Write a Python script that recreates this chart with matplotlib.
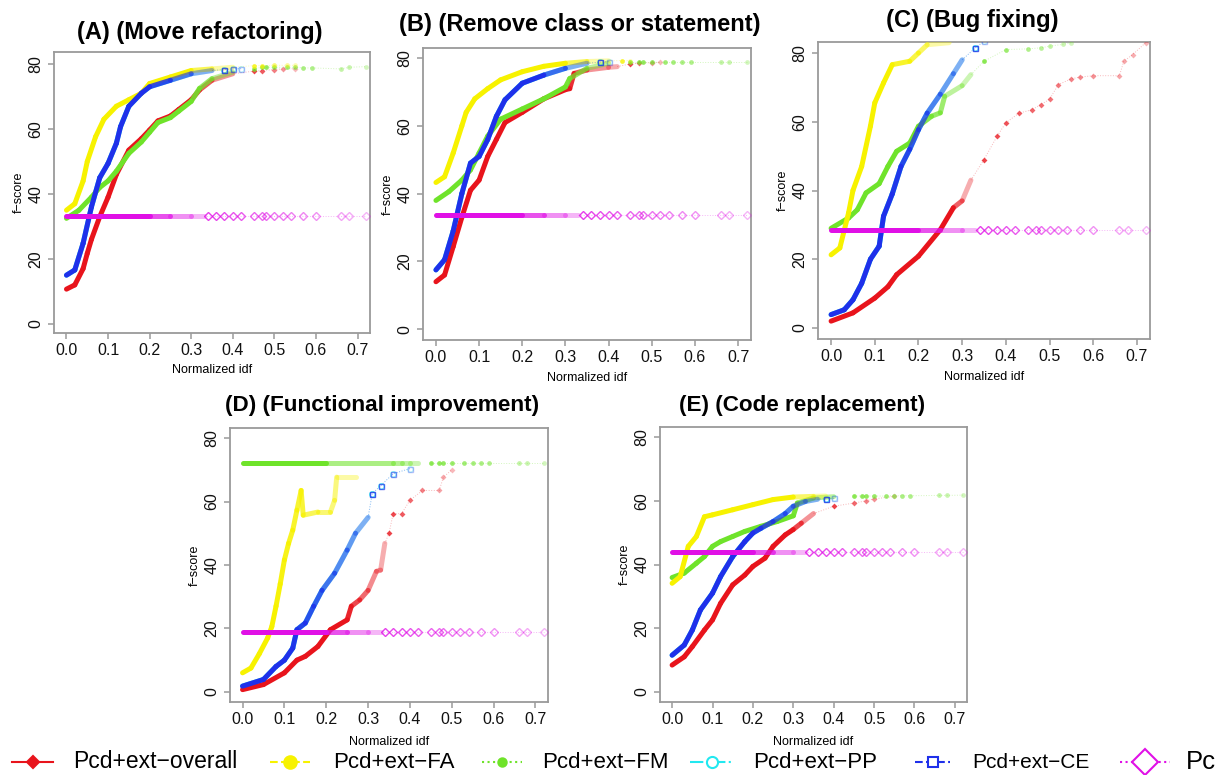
import matplotlib.pyplot as plt
from matplotlib.collections import LineCollection
from matplotlib.colors import to_rgba
import numpy as np

plt.rcParams['font.family'] = ['Liberation Sans', 'DejaVu Sans']

#### colours (R defaults, as they look in the picture)
RED = '#e8141c'
YEL = '#f7f200'
GRN = '#6fe32a'
CYA = '#22e8f0'
BLU = '#1f30ea'
MAG = '#e010e6'

#### x positions of the Pc points (same in every panel) and of the sparse FM tail
pc_x = [0, 0.05, 0.10, 0.15, 0.20, 0.25, 0.30, 0.33, 0.34, 0.36, 0.38, 0.40, 0.42, 0.45,
        0.47, 0.48, 0.50, 0.52, 0.54, 0.57, 0.60, 0.66, 0.68, 0.72]
fm_tail_x = [0.45, 0.47, 0.48, 0.50, 0.53, 0.55, 0.57, 0.59, 0.66, 0.68, 0.72]

#### (A) Move refactoring
a_overall = [(0, 10.7), (0.02, 12), (0.04, 17), (0.05, 21.7), (0.06, 26), (0.08, 33),
             (0.10, 39), (0.12, 46), (0.15, 53.5), (0.18, 57), (0.20, 59.7), (0.22, 62.5),
             (0.25, 64), (0.27, 66), (0.30, 69), (0.32, 72), (0.35, 75), (0.40, 77),
             (0.45, 77.8), (0.47, 78), (0.50, 78.3), (0.52, 78.5), (0.55, 78.6)]
a_fm = [(0, 32.5), (0.03, 35), (0.06, 39), (0.08, 42), (0.10, 44), (0.12, 47), (0.15, 52.5),
        (0.18, 56), (0.20, 59), (0.22, 62), (0.25, 63.5), (0.27, 65.5), (0.30, 68.5),
        (0.32, 72.5), (0.35, 75.5), (0.40, 77.5)]
a_fm_tail = [78.5, 79, 79, 79, 79, 79, 78.8, 78.8, 78.5, 79, 79.2]
a_fa = [(0, 35), (0.02, 37), (0.04, 44), (0.05, 50), (0.07, 57.6), (0.09, 63), (0.12, 67),
        (0.15, 69), (0.18, 71), (0.20, 74), (0.25, 76), (0.30, 78), (0.35, 78.5), (0.40, 79),
        (0.45, 79.5), (0.47, 79.5), (0.50, 79.6), (0.53, 79.6), (0.55, 79.6)]
a_ce = [(0, 15), (0.02, 16.6), (0.04, 24.8), (0.06, 36), (0.08, 45), (0.10, 49.4),
        (0.12, 55.6), (0.13, 60.7), (0.15, 67), (0.18, 71), (0.20, 73), (0.25, 75),
        (0.30, 77), (0.35, 78), (0.38, 78.3), (0.40, 78.5), (0.42, 78.6)]
a_pc = 33.3

#### (B) Remove class or statement
b_overall = [(0, 14), (0.02, 16), (0.04, 24.4), (0.06, 33), (0.08, 41), (0.10, 44),
             (0.12, 51), (0.14, 56), (0.16, 61), (0.20, 64), (0.25, 68), (0.30, 70.7),
             (0.31, 71), (0.32, 75.5), (0.35, 76.5), (0.40, 77.3),
             (0.42, 77.5), (0.45, 78.3), (0.47, 78.5), (0.50, 78.7), (0.52, 78.8)]
b_fm = [(0, 38), (0.03, 40.6), (0.06, 44), (0.08, 47), (0.10, 52), (0.12, 57), (0.15, 62),
        (0.20, 65), (0.25, 68), (0.30, 71.5), (0.31, 74), (0.35, 77), (0.40, 78.5)]
b_fm_tail = [79, 79, 79, 79, 79, 79, 79, 79, 79, 79, 79]
b_fa = [(0, 43.3), (0.02, 45), (0.04, 52), (0.06, 60), (0.07, 64), (0.09, 68), (0.12, 71),
        (0.15, 73.6), (0.20, 76), (0.25, 77.6), (0.30, 78.5), (0.35, 79), (0.40, 79.2),
        (0.43, 79.3), (0.45, 79.3)]
b_ce = [(0, 17.5), (0.02, 20.5), (0.04, 29), (0.06, 40), (0.08, 49), (0.10, 51),
        (0.12, 56), (0.14, 62.8), (0.16, 67.7), (0.20, 72.6), (0.25, 75), (0.30, 77),
        (0.35, 78.5), (0.38, 78.8), (0.40, 79)]
b_pc = 33.7

#### (C) Bug fixing
c_overall = [(0, 2), (0.05, 4.4), (0.10, 8.7), (0.13, 12), (0.15, 15.5), (0.20, 20.9),
             (0.25, 28.6), (0.28, 35), (0.30, 37), (0.32, 43), (0.35, 49), (0.38, 55.8),
             (0.40, 59.7), (0.43, 62.5), (0.46, 63.5), (0.48, 65), (0.50, 66.5),
             (0.52, 70.8), (0.55, 72.5), (0.57, 73), (0.60, 73.4), (0.66, 73.4),
             (0.67, 77.6), (0.69, 79.5), (0.72, 83)]
c_fm = [(0, 29), (0.04, 32), (0.06, 34.4), (0.08, 39.3), (0.11, 42), (0.13, 47),
        (0.15, 51.4), (0.18, 53.8), (0.20, 58.7), (0.23, 61.6), (0.25, 62.6), (0.26, 67.4),
        (0.30, 70.5), (0.32, 73.7), (0.35, 77.6), (0.40, 81),
        (0.45, 81.2), (0.48, 81.5), (0.50, 82), (0.53, 82.5), (0.55, 83)]
c_fm_tail = []
c_fa = [(0, 21.3), (0.02, 23.3), (0.04, 33.5), (0.05, 40), (0.07, 47), (0.09, 58.7),
        (0.10, 65.5), (0.12, 71.3), (0.14, 76.6), (0.18, 77.6), (0.20, 80), (0.22, 82.4),
        (0.27, 83)]
c_ce = [(0, 3.9), (0.03, 5.3), (0.05, 8.2), (0.07, 13), (0.09, 20), (0.11, 23.8),
        (0.12, 32.5), (0.14, 39), (0.16, 47), (0.18, 52), (0.20, 57.7), (0.22, 62.5),
        (0.25, 68), (0.28, 74), (0.30, 78), (0.33, 81.5), (0.35, 83.4)]
c_pc = 28.5

#### (D) Functional improvement
d_overall = [(0, 0.7), (0.05, 2.3), (0.10, 6), (0.13, 10), (0.15, 11.2), (0.18, 14.3),
             (0.21, 19.6), (0.25, 22.7), (0.26, 27), (0.28, 29), (0.30, 32), (0.32, 38),
             (0.33, 38.4), (0.34, 46.8), (0.35, 50), (0.36, 56.2),
             (0.38, 56.2), (0.40, 60.4), (0.43, 63.5), (0.47, 63.5), (0.48, 67.7), (0.50, 70)]
d_fm = [(0, 72.3), (0.20, 72.3), (0.36, 72.3), (0.38, 72.3), (0.40, 72.3), (0.42, 72.3)]
d_fm_tail = [72.3] * len(fm_tail_x)
d_fa = [(0, 6), (0.02, 7.5), (0.04, 12), (0.06, 17), (0.07, 20.6), (0.08, 27), (0.09, 34),
        (0.10, 41.6), (0.11, 46.8), (0.12, 51), (0.13, 57.3), (0.14, 63.5), (0.145, 55.7),
        (0.18, 56.7), (0.21, 56.7), (0.22, 60.4), (0.225, 67.7), (0.27, 67.7)]
d_ce = [(0, 1.8), (0.05, 3.9), (0.08, 8), (0.10, 10), (0.12, 13.8), (0.13, 19.6),
        (0.15, 21.7), (0.17, 27), (0.19, 32), (0.22, 37.4), (0.25, 44.7), (0.27, 50),
        (0.30, 55), (0.31, 62.5), (0.33, 65), (0.36, 68.8), (0.40, 70.4)]
d_pc = 18.8

#### (E) Code replacement
e_overall = [(0, 8.4), (0.03, 11), (0.05, 14.2), (0.08, 19.4), (0.10, 22.6), (0.12, 27.8),
             (0.15, 33.6), (0.18, 36.7), (0.20, 39.4), (0.23, 42), (0.25, 45.7), (0.28, 49.3),
             (0.30, 51), (0.32, 53), (0.35, 56), (0.40, 58.3),
             (0.45, 59.3), (0.48, 60), (0.50, 60.6), (0.55, 61.4)]
e_fm = [(0, 35.9), (0.03, 37.3), (0.06, 40.4), (0.08, 42.5), (0.10, 45.7), (0.12, 47.2),
        (0.15, 48.8), (0.18, 50.4), (0.22, 52), (0.26, 53.5), (0.30, 55.3), (0.31, 59.3),
        (0.35, 60.9), (0.40, 61.3)]
e_fm_tail = [61.5, 61.5, 61.5, 61.5, 61.5, 61.6, 61.6, 61.6, 61.7, 61.7, 61.8]
e_fa = [(0, 34.1), (0.02, 36.2), (0.04, 45.7), (0.06, 48.8), (0.08, 55), (0.10, 55.6),
        (0.15, 57.2), (0.20, 58.8), (0.25, 60.4), (0.30, 61.2), (0.35, 61.4), (0.38, 61.5)]
e_ce = [(0, 11.5), (0.03, 14.7), (0.05, 19.4), (0.07, 25.7), (0.10, 31), (0.12, 36.2),
        (0.15, 42.5), (0.18, 47.2), (0.20, 49.9), (0.22, 51.4), (0.25, 53.5), (0.28, 56),
        (0.30, 58.3), (0.33, 59.8), (0.36, 60.5), (0.38, 60.7), (0.40, 60.8)]
e_pc = 43.8

titles = ['(A) (Move refactoring)', '(B) (Remove class or statement)', '(C) (Bug fixing)',
          '(D) (Functional improvement)', '(E) (Code replacement)']
labels = ['Pcd+ext\u2212overall', 'Pcd+ext\u2212FA', 'Pcd+ext\u2212FM', 'Pcd+ext\u2212PP',
          'Pcd+ext\u2212CE', 'Pc']

W, H = 1229, 775
## axes boxes in pixels: left, right, top, bottom
boxes = [(54, 370, 52, 333), (423, 751, 48, 340), (818, 1150, 42, 339),
         (230, 548, 428, 702), (660, 967, 427, 702)]
ylims = [(-2.8, 83.7), (-3.2, 83.0), (-3.2, 83.2), (-3.2, 83.2), (-3.2, 83.2)]
title_pos = [(200, 33), (580, 25), (972, 20), (382, 405), (802, 405)]
title_size = [17, 17, 17.2, 16.2, 16.2]
xlabel_pad = [4, 5, 5, 6, 6]

## (solid until, faded until) for overall, FM, FA, CE in each panel
cuts = [
    [(0.30, 0.42), (0.30, 0.42), (0.30, 0.40), (0.22, 0.35)],
    [(0.30, 0.42), (0.30, 0.42), (0.30, 0.40), (0.25, 0.35)],
    [(0.28, 0.32), (0.20, 0.32), (0.15, 0.27), (0.15, 0.30)],
    [(0.25, 0.34), (0.25, 0.42), (0.08, 0.27), (0.12, 0.30)],
    [(0.30, 0.36), (0.30, 0.42), (0.30, 0.38), (0.20, 0.36)],
]


def fade(x, a0=0.9, a1=0.25):
    ## points get lighter further right, like in the R output
    x = np.asarray(x)
    return np.clip(a0 - (a0 - a1) * (x - x.min()) / max(x.max() - x.min(), 1e-9), 0, 1)


def draw(ax, x, y, color, c1, c2, marker='o', ms=3.2, lw=3.6, open_mk=False, z=3,
         a_end=0.35):
    x = np.asarray(x, float)
    y = np.asarray(y, float)
    d = x <= c2 + 1e-9
    xd, yd = x[d], y[d]
    segs = [[(xd[k], yd[k]), (xd[k + 1], yd[k + 1])] for k in range(len(xd) - 1)]
    base = np.array(to_rgba(color))
    cols = []
    for k in range(len(xd) - 1):
        xm = xd[k + 1]
        a = 1.0 if xm <= c1 else 1.0 - (1.0 - a_end) * (xm - c1) / max(c2 - c1, 1e-9)
        cc = base.copy()
        cc[3] = a
        cols.append(cc)
    if segs:
        ax.add_collection(LineCollection(segs, colors=cols, linewidths=lw,
                                         capstyle='round', joinstyle='round', zorder=z))
    t = ~d
    if t.any():
        tx = np.concatenate([xd[-1:], x[t]])
        ty = np.concatenate([yd[-1:], y[t]])
        ax.plot(tx, ty, color=color, lw=0.7, ls=':', alpha=0.3, zorder=z)
        for xx, yy, aa in zip(x[t], y[t], fade(x[t], 0.8, 0.3)):
            if open_mk:
                ax.plot(xx, yy, marker=marker, ms=ms, mfc='none', mec=color,
                        mew=1.0, alpha=aa, zorder=z)
            else:
                ax.plot(xx, yy, marker=marker, ms=ms, color=color, mec='none',
                        alpha=aa, zorder=z)


def xy(pts):
    return [p[0] for p in pts], [p[1] for p in pts]


panels = [
    (a_overall, a_fm, a_fm_tail, a_fa, a_ce, a_pc),
    (b_overall, b_fm, b_fm_tail, b_fa, b_ce, b_pc),
    (c_overall, c_fm, c_fm_tail, c_fa, c_ce, c_pc),
    (d_overall, d_fm, d_fm_tail, d_fa, d_ce, d_pc),
    (e_overall, e_fm, e_fm_tail, e_fa, e_ce, e_pc),
]

fig = plt.figure(figsize=(W / 100, H / 100), dpi=100)

for i, (ov, fm, fm_t, fa, ce, pc) in enumerate(panels):
    l, r, t, b = boxes[i]
    ax = fig.add_axes([l / W, 1 - b / H, (r - l) / W, (b - t) / H])
    ax.set_xlim(-0.03, 0.73)
    ax.set_ylim(*ylims[i])
    ax.set_xticks(np.arange(0, 0.71, 0.1))
    ax.set_xticklabels(['0.0', '0.1', '0.2', '0.3', '0.4', '0.5', '0.6', '0.7'])
    ax.set_yticks([0, 20, 40, 60, 80])
    ax.set_yticklabels(['0', '20', '40', '60', '80'], rotation=90, va='center')
    for s in ax.spines.values():
        s.set_color('#9a9a9a')
        s.set_linewidth(1.3)
    ax.tick_params(colors='#9a9a9a', labelcolor='#111111', labelsize=11.5, length=4,
                   width=1.1)
    ax.set_xlabel('Normalized idf', fontsize=9, labelpad=xlabel_pad[i])
    ax.set_ylabel('f\u2212score', fontsize=9, labelpad=3)

    cu = cuts[i]
    cx, cy = xy(ce)
    ## PP curves sit under the CE curves in every panel
    draw(ax, cx, cy, CYA, cu[3][0], cu[3][1], marker='o', ms=4, open_mk=True, z=2)
    draw(ax, *xy(ov), RED, cu[0][0], cu[0][1], marker='D', ms=3, z=3)
    draw(ax, *xy(fm), GRN, cu[1][0], cu[1][1], marker='o', ms=3.4, z=3)
    if len(fm_t):
        draw(ax, fm_tail_x, fm_t, GRN, 0, 0, marker='o', ms=3.4, z=3)
    draw(ax, *xy(fa), YEL, cu[2][0], cu[2][1], marker='o', ms=3.4, z=3)
    draw(ax, cx, cy, BLU, cu[3][0], cu[3][1], marker='s', ms=3.6, open_mk=True, z=3)
    draw(ax, pc_x, [pc] * len(pc_x), MAG, 0.20, 0.33, marker='D', ms=4.5, open_mk=True,
         z=4, a_end=0.3)

    tx, ty = title_pos[i]
    fig.text(tx / W, 1 - ty / H, titles[i], ha='center', va='center',
             fontsize=title_size[i], fontweight='bold')

#### legend across the bottom, laid out in pixels
lg = fig.add_axes([0, 0, 1, 1], zorder=-1)
lg.set_xlim(0, W)
lg.set_ylim(H, 0)
lg.axis('off')
ly = 762
leg_handles = [  # x0, x1, colour, line style, marker, size, filled
    (12, 53, RED, '-', 'D', 6, True),
    (270, 310, YEL, '--', 'o', 9, True),
    (482, 522, GRN, ':', 'o', 6, True),
    (690, 733, CYA, '-.', 'o', 8, False),
    (915, 950, BLU, '--', 's', 7, False),
    (1120, 1170, MAG, ':', 'D', 13, False),
]
leg_text_x = [73, 333, 542, 753, 972, 1186]
leg_text_size = [16.5, 16, 16, 16, 15, 18.5]
for (x0, x1, c, ls, mk, ms, fill), tx, lab, fs in zip(leg_handles, leg_text_x, labels,
                                                     leg_text_size):
    lg.plot([x0, x1], [ly, ly], color=c, lw=1.5, ls=ls)
    lg.plot((x0 + x1) / 2, ly, marker=mk, ms=ms, color=c,
            mfc=c if fill else 'white', mew=1.5)
    lg.text(tx, ly, lab, fontsize=fs, va='center', ha='left')

fig.savefig('out.png', dpi=100)
